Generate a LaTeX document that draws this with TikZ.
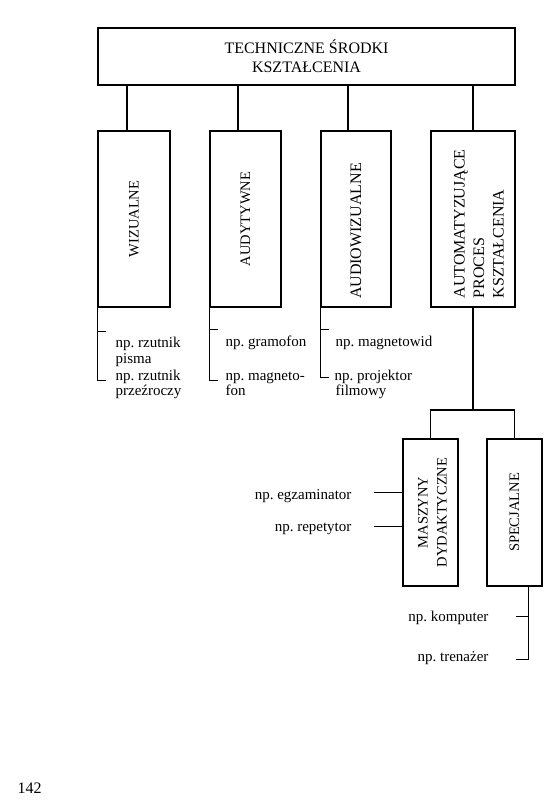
\documentclass[tikz,border=0pt]{standalone}
\usepackage{fontspec}
\setmainfont{Liberation Serif}
\frenchspacing
\begin{document}
\begin{tikzpicture}[x=1pt,y=-1pt, line width=1.2pt,
  box/.style={draw, inner sep=0, line width=1.2pt},
  lab/.style={font=\fontsize{15}{16}\selectfont, inner sep=0},
  vt/.style={rotate=90, inner sep=0, align=center, font=\fontsize{14.5}{19}\selectfont}]
\useasboundingbox (0,0) rectangle (552,809);
% top
\node[box, minimum width=417, minimum height=57, align=center, font=\fontsize{16}{19}\selectfont] (top) at (306.5,56.5) {TECHNICZNE ŚRODKI\\KSZTAŁCENIA};
% first level boxes
\node[box, minimum width=72, minimum height=176] (b1) at (134,219) {};
\node[box, minimum width=71, minimum height=176] (b2) at (245.5,219) {};
\node[box, minimum width=70, minimum height=176] (b3) at (356,219) {};
\node[box, minimum width=84, minimum height=176] (b4) at (473,219) {};
% second level boxes
\node[box, minimum width=55, minimum height=147] (m) at (430.5,512.5) {};
\node[box, minimum width=55, minimum height=147] (s) at (514.5,512.5) {};
% rotated texts
\node[vt] (t1) at (b1.center) {WIZUALNE};
\node[vt] (t2) at (b2.center) {AUDYTYWNE};
\node[vt, font=\fontsize{16}{19}\selectfont] (t3) at ([yshift=-12pt]b3.center) {AUDIOWIZUALNE};
\node[vt, align=left, anchor=west, font=\fontsize{16}{19.5}\selectfont] (t4) at (479,299) {AUTOMATYZUJĄCE\\PROCES\\KSZTAŁCENIA};
\node[vt] (t5) at ([xshift=2pt]m.center) {MASZYNY\\DYDAKTYCZNE};
\node[vt] (t6) at (s.center) {SPECJALNE};
% connectors from top
\coordinate (k1) at (127,0);
\coordinate (k2) at (238,0);
\coordinate (k3) at (348,0);
\coordinate (k4) at (473,0);
\draw (top.south -| k1) -- (b1.north -| k1);
\draw (top.south -| k2) -- (b2.north -| k2);
\draw (top.south -| k3) -- (b3.north -| k3);
\draw (top.south -| k4) -- (b4.north -| k4);
% branch to second level
\coordinate (j) at (473,410);
\draw (b4.south) -- (j);
\draw (m.north) |- (j) -| (s.north);
% brackets under first-level boxes
\draw (b1.south west) -- ++(0,73) -- ++(9,0);
\draw (b1.south west) ++(0,24) -- ++(9,0);
\draw (b2.south west) -- ++(0,73) -- ++(9,0);
\draw (b2.south west) ++(0,22) -- ++(9,0);
\draw (b3.south west) -- ++(0,70) -- ++(9,0);
\draw (b3.south west) ++(0,22) -- ++(9,0);
% labels
\node[lab, anchor=base west] (l1) at (115,347) {np. rzutnik};
\node[lab, anchor=base west] (l1b) at (115,363) {pisma};
\node[lab, anchor=base west] (l2) at (115,380) {np. rzutnik};
\node[lab, anchor=base west] (l2b) at (115,395) {przeźroczy};
\node[lab, anchor=base west] (l3) at (225,346) {np. gramofon};
\node[lab, anchor=base west] (l4) at (225,380) {np. magneto-};
\node[lab, anchor=base west] (l4b) at (225,395) {fon};
\node[lab, anchor=base west] (l5) at (335,346) {np. magnetowid};
\node[lab, anchor=base west] (l6) at (334,380) {np. projektor};
\node[lab, anchor=base west] (l6b) at (335,395) {filmowy};
% second-level labels
\draw (m.north west) ++(0,54) -- ++(-28,0);
\draw (m.north west) ++(0,88) -- ++(-28,0);
\node[lab, anchor=base east] (l7) at (352,499) {np. egzaminator};
\node[lab, anchor=base east] (l8) at (352,531) {np. repetytor};
\draw (s.south east) ++(-14,0) -- ++(0,73) -- ++(-13,0);
\draw (s.south east) ++(-14,30) -- ++(-13,0);
\node[lab, anchor=base east] (l9) at (489,621) {np. komputer};
\node[lab, anchor=base east] (l10) at (489,661) {np. trenażer};
% page number
\node[font=\fontsize{16}{19}\selectfont, anchor=base west, inner sep=0] (pg) at (17,793) {142};
\end{tikzpicture}
\end{document}
